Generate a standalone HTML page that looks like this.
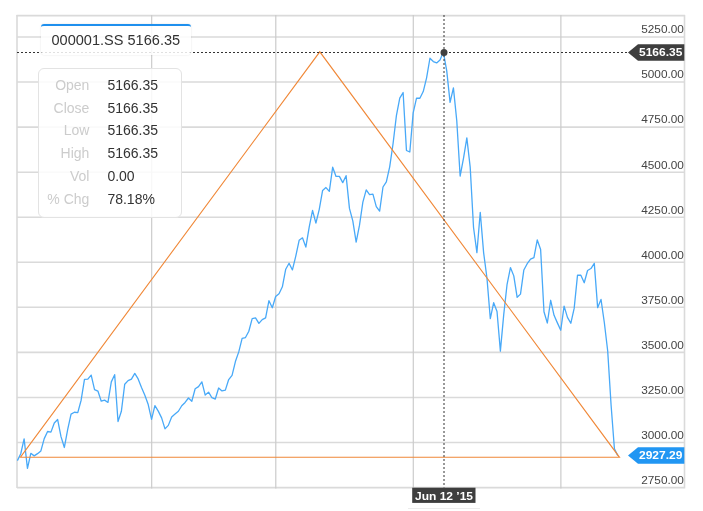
<!DOCTYPE html>
<html><head><meta charset="utf-8"><title>000001.SS</title>
<style>
html,body{margin:0;padding:0;background:#fff;}
body{width:703px;height:511px;position:relative;overflow:hidden;font-family:"Liberation Sans",Arial,sans-serif;}
svg{position:absolute;left:0;top:0;}
.yl{position:absolute;right:19.1px;width:80px;text-align:right;font-size:11.8px;line-height:14px;color:#444;white-space:nowrap;}
.title{position:absolute;left:41px;top:24px;width:149.5px;height:29px;border-top:2px solid #1f90ee;border-radius:3px 3px 4px 4px;background:rgba(255,255,255,0.85);box-shadow:0 0 2px rgba(0,0,0,0.13);font-size:14.55px;line-height:28px;color:#333;white-space:nowrap;}
.title span{position:absolute;left:10.5px;top:0px;}
.tip{position:absolute;left:38px;top:68px;width:142px;height:148px;border:1px solid #e3e3e3;border-radius:6px;background:rgba(255,255,255,0.85);font-size:14px;color:#333;}
.tip .r{position:absolute;left:0;height:22px;line-height:22px;white-space:nowrap;}
.tip .l{position:absolute;left:0;width:50.4px;text-align:right;color:#ccc;}
.tip .v{position:absolute;left:68.4px;}
.plab{transform:scaleY(0.94);transform-origin:50% 50%;position:absolute;height:16px;line-height:16px;font-size:12px;font-weight:bold;color:#fff;white-space:nowrap;}
</style></head><body>
<svg width="703" height="511" viewBox="0 0 703 511">
<g stroke="#dadada" stroke-width="1.6">
<line x1="16.5" y1="15.6" x2="685" y2="15.6"/>
<line x1="17" y1="15" x2="17" y2="488"/>
<line x1="684.5" y1="15" x2="684.5" y2="488.5"/>
<line x1="17" y1="37.0" x2="684" y2="37.0"/><line x1="17" y1="82.0" x2="684" y2="82.0"/><line x1="17" y1="127.1" x2="684" y2="127.1"/><line x1="17" y1="172.2" x2="684" y2="172.2"/><line x1="17" y1="217.2" x2="684" y2="217.2"/><line x1="17" y1="262.3" x2="684" y2="262.3"/><line x1="17" y1="307.3" x2="684" y2="307.3"/><line x1="17" y1="352.4" x2="684" y2="352.4"/><line x1="17" y1="397.5" x2="684" y2="397.5"/><line x1="17" y1="442.5" x2="684" y2="442.5"/><line x1="17" y1="487.6" x2="684" y2="487.6"/>
<line x1="151.68" y1="15" x2="151.68" y2="488.5" stroke="#cbcbcb" stroke-width="1.2"/><line x1="275.78" y1="15" x2="275.78" y2="488.5" stroke="#cbcbcb" stroke-width="1.2"/><line x1="413.29" y1="15" x2="413.29" y2="488.5" stroke="#cbcbcb" stroke-width="1.2"/><line x1="560.87" y1="15" x2="560.87" y2="488.5" stroke="#cbcbcb" stroke-width="1.2"/>
</g>
<polyline fill="none" stroke="#48a9f8" stroke-width="1.3" stroke-linejoin="round" points="17.40,460.63 20.75,453.75 24.11,438.86 27.46,468.42 30.82,453.32 34.17,455.89 37.52,453.65 40.88,450.91 44.23,438.63 47.59,431.51 50.94,432.14 54.29,422.94 57.65,419.54 61.00,436.63 64.36,447.46 67.71,429.44 71.06,414.10 74.42,412.23 77.77,412.62 81.13,400.21 84.48,379.33 87.83,379.16 91.19,375.11 94.54,389.62 97.90,391.07 101.25,401.18 104.60,400.10 107.96,402.42 111.31,381.87 114.67,374.65 118.02,421.54 121.37,411.32 124.73,384.18 128.08,380.63 131.44,379.11 134.79,373.45 138.14,378.89 141.50,387.40 144.85,395.23 148.21,404.59 151.56,419.39 154.91,405.58 158.27,411.12 161.62,417.90 164.98,428.83 168.33,425.37 171.68,416.99 175.04,414.09 178.39,411.25 181.75,405.77 185.10,402.43 188.45,398.01 191.81,401.26 195.16,388.73 198.52,386.58 201.87,381.90 205.22,395.10 208.58,392.13 211.93,397.72 215.29,399.04 218.64,388.00 221.99,390.95 225.35,390.08 228.70,379.55 232.06,375.30 235.41,361.53 238.76,351.88 242.12,338.46 245.47,337.56 248.83,331.24 252.18,318.55 255.53,317.89 258.89,323.42 262.24,319.57 265.60,317.95 268.95,300.74 272.30,307.71 275.66,296.46 279.01,293.67 282.37,286.80 285.72,269.23 289.07,263.21 292.43,269.92 295.78,256.09 299.14,240.33 302.49,237.84 305.84,247.10 309.20,227.16 312.55,210.49 315.91,223.14 319.26,209.35 322.61,190.45 325.97,187.56 329.32,191.31 332.68,167.21 336.03,176.44 339.38,176.36 342.74,182.67 346.09,175.67 349.45,208.43 352.80,220.95 356.15,242.05 359.51,225.15 362.86,202.15 366.22,189.95 369.57,194.54 372.92,194.08 376.28,206.63 379.63,211.17 382.99,187.01 386.34,181.83 389.69,166.85 393.05,143.74 396.40,115.59 399.76,98.09 403.11,92.54 406.46,150.47 409.82,152.01 413.17,112.90 416.53,98.16 419.88,98.26 423.23,91.56 426.59,77.87 429.94,58.26 433.30,61.57 436.65,62.92 440.00,60.11 443.36,52.05 446.71,70.68 450.07,102.32 453.42,87.82 456.77,120.72 460.13,176.05 463.48,158.36 466.84,137.88 470.19,167.14 473.54,227.51 476.90,252.71 480.25,212.30 483.61,252.59 486.96,277.99 490.31,318.70 493.67,302.66 497.02,311.45 500.38,351.09 503.73,314.66 507.08,284.30 510.44,267.61 513.79,275.88 517.15,297.29 520.50,294.14 523.85,269.96 527.21,263.69 530.56,259.09 533.92,257.58 537.27,239.93 540.62,249.49 543.98,311.74 547.33,323.01 550.69,300.27 554.04,315.30 557.39,322.88 560.75,330.24 564.10,306.15 567.46,317.32 570.81,323.27 574.16,308.38 577.52,275.17 580.87,275.26 584.23,282.76 587.58,270.46 590.93,268.52 594.29,263.41 597.64,307.66 601.00,299.38 604.35,322.78 607.70,350.99 611.06,404.68 614.41,448.82 617.77,455.62"/>
<path d="M20.3,457.3 L319.8,51.8 L619.5,457.3 Z" fill="none" stroke="#f08838" stroke-width="1.1" stroke-linejoin="miter"/>
<line x1="17" y1="52.5" x2="628" y2="52.5" stroke="#333" stroke-width="1" stroke-dasharray="2,2"/>
<line x1="444" y1="15" x2="444" y2="487.5" stroke="#333" stroke-width="1" stroke-dasharray="2,2"/>
<circle cx="444" cy="52.5" r="3.5" fill="#404040"/>
<path d="M628,52.5 L638,44.2 L684.3,44.2 L684.3,60.8 L638,60.8 Z" fill="#3e3e3e"/>
<path d="M628,455.5 L638,447.2 L684.3,447.2 L684.3,463.8 L638,463.8 Z" fill="#2196f3"/>
<rect x="412.2" y="487.7" width="63.3" height="15.2" fill="#3e3e3e"/>
<line x1="408" y1="508.5" x2="480" y2="508.5" stroke="#ececec" stroke-width="1"/>
</svg>
<div class="yl" style="top:22px">5250.00</div><div class="yl" style="top:67px">5000.00</div><div class="yl" style="top:112px">4750.00</div><div class="yl" style="top:158px">4500.00</div><div class="yl" style="top:203px">4250.00</div><div class="yl" style="top:248px">4000.00</div><div class="yl" style="top:293px">3750.00</div><div class="yl" style="top:338px">3500.00</div><div class="yl" style="top:383px">3250.00</div><div class="yl" style="top:428px">3000.00</div><div class="yl" style="top:473px">2750.00</div>
<div class="title"><span>000001.SS 5166.35</span></div>
<div class="tip">
<div class="r" style="top:5.0px"><span class="l">Open</span><span class="v">5166.35</span></div>
<div class="r" style="top:28.0px"><span class="l">Close</span><span class="v">5166.35</span></div>
<div class="r" style="top:50.0px"><span class="l">Low</span><span class="v">5166.35</span></div>
<div class="r" style="top:73.0px"><span class="l">High</span><span class="v">5166.35</span></div>
<div class="r" style="top:96.0px"><span class="l">Vol</span><span class="v">0.00</span></div>
<div class="r" style="top:119.0px"><span class="l">% Chg</span><span class="v">78.18%</span></div>

</div>
<div class="plab" style="left:639px;top:44px">5166.35</div>
<div class="plab" style="left:639px;top:447px">2927.29</div>
<div class="plab" style="left:415px;top:488px">Jun 12 &rsquo;15</div>
</body></html>
